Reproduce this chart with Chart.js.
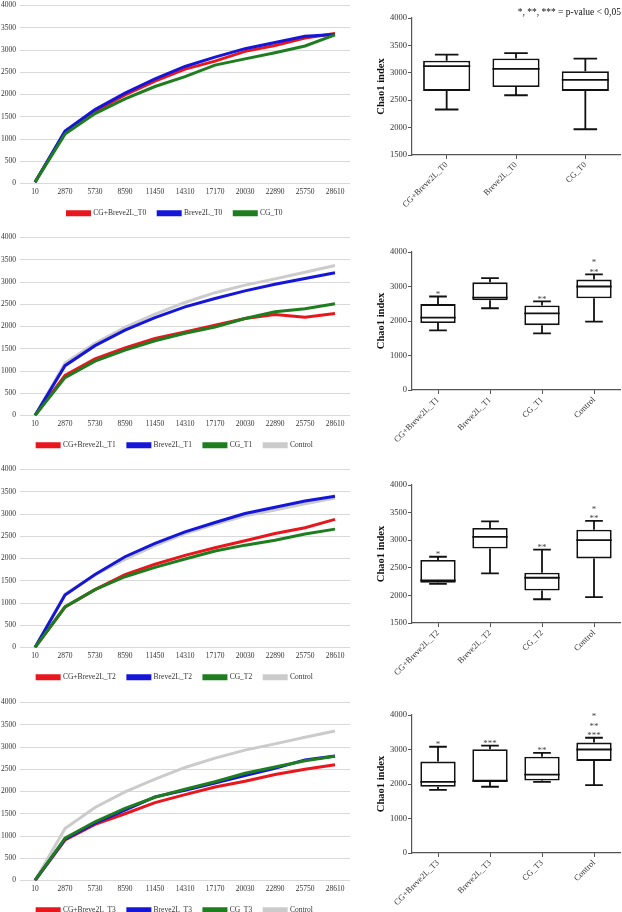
<!DOCTYPE html>
<html lang="en">
<head>
<meta charset="UTF-8">
<title>Chao1 rarefaction and index</title>
<script src="https://cdn.jsdelivr.net/npm/chart.js"></script>
<style>
  body { margin: 0; background: #fff; }
  #page { position: relative; width: 622px; height: 912px; overflow: hidden; font-family: 'Liberation Serif', serif; }
  canvas { position: absolute; }
  #note { position: absolute; right: 1px; top: 7px; font-size: 9.5px; line-height: 11px; color: #111; }
</style>
</head>
<body>
<div id="page">
  <canvas id="line0" width="352" height="230" style="left:0;top:-3px"></canvas>
  <canvas id="line1" width="352" height="230" style="left:0;top:229px"></canvas>
  <canvas id="line2" width="352" height="230" style="left:0;top:461px"></canvas>
  <canvas id="line3" width="352" height="230" style="left:0;top:694px"></canvas>
  <canvas id="box0" width="287" height="209" style="left:335px;top:8px"></canvas>
  <canvas id="box1" width="287" height="210" style="left:335px;top:242px"></canvas>
  <canvas id="box2" width="287" height="210" style="left:335px;top:475px"></canvas>
  <canvas id="box3" width="287" height="210" style="left:335px;top:705px"></canvas>
  <div id="note">*, **, *** = p-value &lt; 0,05</div>
</div>

<script>
// rarefaction depths
const depths = ['10', '2870', '5730', '8590', '11450', '14310', '17170', '20030', '22890', '25750', '28610'];

// T0 curves
const cgBreveT0 = [30, 1150, 1620, 1990, 2300, 2570, 2750, 2970, 3100, 3270, 3370];
const breveT0   = [30, 1180, 1660, 2030, 2350, 2630, 2840, 3030, 3170, 3310, 3350];
const cgT0      = [30, 1110, 1570, 1900, 2180, 2400, 2660, 2800, 2940, 3090, 3340];

// T1 curves
const cgBreveT1 = [0, 900, 1270, 1520, 1730, 1880, 2030, 2180, 2270, 2210, 2290];
const breveT1   = [0, 1120, 1570, 1920, 2200, 2440, 2630, 2800, 2950, 3080, 3210];
const cgT1      = [0, 850, 1220, 1470, 1680, 1850, 1990, 2180, 2330, 2400, 2510];
const controlT1 = [0, 1180, 1620, 1980, 2280, 2540, 2760, 2930, 3070, 3220, 3370];

// T2 curves
const cgBreveT2 = [0, 910, 1300, 1640, 1870, 2070, 2240, 2400, 2560, 2690, 2880];
const breveT2   = [0, 1180, 1640, 2040, 2340, 2600, 2810, 3010, 3150, 3290, 3400];
const cgT2      = [0, 910, 1300, 1590, 1800, 1990, 2170, 2300, 2410, 2550, 2660];
const controlT2 = [0, 1200, 1630, 1980, 2290, 2560, 2770, 2960, 3090, 3230, 3360];

// T3 curves
const cgBreveT3 = [0, 910, 1260, 1500, 1750, 1930, 2100, 2230, 2380, 2500, 2600];
const breveT3   = [0, 930, 1290, 1580, 1880, 2030, 2190, 2360, 2520, 2710, 2800];
const cgT3      = [0, 950, 1320, 1620, 1870, 2050, 2220, 2410, 2550, 2690, 2790];
const controlT3 = [0, 1170, 1640, 1990, 2280, 2540, 2750, 2930, 3070, 3220, 3360];

// box plots: min, q1, median, q3, max
const groupsT0 = ['CG+Breve2L_T0', 'Breve2L_T0', 'CG_T0'];
const minT0 = [2330, 2590, 1970];
const q1T0  = [2670, 2740, 2670];
const medT0 = [3120, 3070, 2870];
const q3T0  = [3220, 3260, 3030];
const maxT0 = [3330, 3360, 3260];
const starsT0 = [[], [], []];

const groupsT1 = ['CG+Breve2L_T1', 'Breve2L_T1', 'CG_T1', 'Control'];
const minT1 = [1730, 2370, 1640, 1980];
const q1T1  = [1940, 2600, 1880, 2660];
const medT1 = [2100, 2680, 2220, 3000];
const q3T1  = [2490, 3120, 2450, 3200];
const maxT1 = [2710, 3240, 2570, 3350];
const starsT1 = [['*'], [], ['**'], ['**', '*']];

const groupsT2 = ['CG+Breve2L_T2', 'Breve2L_T2', 'CG_T2', 'Control'];
const minT2 = [2210, 2400, 1930, 1970];
const q1T2  = [2230, 2850, 2090, 2670];
const medT2 = [2270, 3060, 2320, 3000];
const q3T2  = [2640, 3220, 2410, 3190];
const maxT2 = [2700, 3340, 2830, 3350];
const starsT2 = [['*'], [], ['**'], ['**', '*']];

const groupsT3 = ['CG+Breve2L_T3', 'Breve2L_T3', 'CG_T3', 'Control'];
const minT3 = [1830, 1920, 2060, 1970];
const q1T3  = [1920, 2060, 2100, 2670];
const medT3 = [2060, 2100, 2270, 3000];
const q3T3  = [2650, 3010, 2790, 3200];
const maxT3 = [3080, 3110, 2900, 3340];
const starsT3 = [['*'], ['***'], ['**'], ['***', '**', '*']];

const RED = '#e8161d', BLUE = '#1616d8', GREEN = '#1e7d1e', GREY = '#cbcbcb';
const serif = "'Liberation Serif', 'Times New Roman', serif";
const plain = v => String(v); // no thousands separator

function lineChart(id, suffix, series) {
  const names = ['CG+Breve2L_' + suffix, 'Breve2L_' + suffix, 'CG_' + suffix, 'Control'];
  const colors = [RED, BLUE, GREEN, GREY];
  const drawOrder = [3, 2, 1, 4]; // control underneath, green on top
  const datasets = series.map((data, i) => ({
    label: names[i],
    data: data,
    borderColor: colors[i],
    backgroundColor: colors[i],
    borderWidth: 3,
    pointRadius: 0,
    tension: 0,
    order: drawOrder[i]
  }));

  new Chart(document.getElementById(id), {
    type: 'line',
    data: { labels: depths, datasets: datasets },
    options: {
      responsive: false,
      animation: false,
      layout: { padding: { top: 6, right: 2, left: 0, bottom: 0 } },
      plugins: {
        tooltip: { enabled: false },
        legend: {
          position: 'bottom',
          labels: {
            boxWidth: 22, boxHeight: 3, padding: 12,
            color: '#333', font: { family: serif, size: 7.5 },
            sort: (a, b) => a.datasetIndex - b.datasetIndex
          }
        }
      },
      scales: {
        x: {
          offset: true,
          grid: { display: false, drawTicks: false },
          border: { display: false },
          ticks: { color: '#333', font: { family: serif, size: 7.5 }, padding: 4, maxRotation: 0, autoSkip: false },
          afterFit: s => { s.height = 14; }
        },
        y: {
          min: 0, max: 4000,
          ticks: { stepSize: 500, color: '#333', font: { family: serif, size: 7.5 }, padding: 4, callback: plain },
          grid: { color: '#d9d9d9', drawTicks: false },
          border: { display: false },
          afterFit: s => { s.width = 20; }
        }
      }
    }
  });
}

function boxChart(id, groups, mins, q1s, meds, q3s, maxs, stars, yMin, yStep) {
  const whiskers = {
    id: 'whiskers',
    afterDatasetsDraw(chart) {
      const ctx = chart.ctx, x = chart.scales.x, y = chart.scales.y;
      const bars = chart.getDatasetMeta(0).data;
      ctx.save();
      ctx.strokeStyle = '#111';
      ctx.lineWidth = 1.8;
      bars.forEach((bar, i) => {
        const cx = x.getPixelForValue(i);
        const half = bar.width / 2;
        const cap = bar.width / 4;
        ctx.beginPath();
        // median
        ctx.moveTo(cx - half, y.getPixelForValue(meds[i]));
        ctx.lineTo(cx + half, y.getPixelForValue(meds[i]));
        // upper whisker
        ctx.moveTo(cx, y.getPixelForValue(q3s[i]));
        ctx.lineTo(cx, y.getPixelForValue(maxs[i]));
        ctx.moveTo(cx - cap, y.getPixelForValue(maxs[i]));
        ctx.lineTo(cx + cap, y.getPixelForValue(maxs[i]));
        // lower whisker
        ctx.moveTo(cx, y.getPixelForValue(q1s[i]));
        ctx.lineTo(cx, y.getPixelForValue(mins[i]));
        ctx.moveTo(cx - cap, y.getPixelForValue(mins[i]));
        ctx.lineTo(cx + cap, y.getPixelForValue(mins[i]));
        ctx.stroke();
        // significance marks stacked above the top whisker
        ctx.fillStyle = '#444';
        ctx.font = '9px ' + serif;
        ctx.textAlign = 'center';
        ctx.textBaseline = 'alphabetic';
        stars[i].forEach((s, k) => {
          ctx.fillText(s, cx, y.getPixelForValue(maxs[i]) + 0.5 - k * 9.5);
        });
      });
      ctx.restore();
    }
  };

  new Chart(document.getElementById(id), {
    type: 'bar',
    data: {
      labels: groups,
      datasets: [{
        data: q1s.map((v, i) => [v, q3s[i]]),
        backgroundColor: '#fff',
        borderColor: '#111',
        borderWidth: 1.8,
        borderSkipped: false,
        barPercentage: 0.68,
        categoryPercentage: 1
      }]
    },
    options: {
      responsive: false,
      animation: false,
      layout: { padding: { top: 10, left: 38, right: 2, bottom: 0 } },
      plugins: { legend: { display: false }, tooltip: { enabled: false } },
      scales: {
        x: {
          offset: true,
          grid: { offset: false, drawOnChartArea: false, drawTicks: true, tickLength: 4, color: '#555', lineWidth: 1 },
          border: { color: '#555', width: 1.2 },
          ticks: { color: '#333', font: { family: serif, size: 8.5 }, minRotation: 45, maxRotation: 45, padding: 1, autoSkip: false },
          afterFit: s => { s.height = 62; }
        },
        y: {
          min: yMin, max: 4000,
          ticks: { stepSize: yStep, color: '#333', font: { family: serif, size: 8.5 }, padding: 1, callback: plain },
          grid: { drawOnChartArea: false, drawTicks: true, tickLength: 4, color: '#555', lineWidth: 1 },
          border: { color: '#555', width: 1.2 },
          title: { display: true, text: 'Chao1 index', color: '#111', font: { family: serif, size: 10.5, weight: 'bold' }, padding: { top: 2, bottom: 0 } },
          afterFit: s => { s.width = 39; }
        }
      }
    },
    plugins: [whiskers]
  });
}

lineChart('line0', 'T0', [cgBreveT0, breveT0, cgT0]);
lineChart('line1', 'T1', [cgBreveT1, breveT1, cgT1, controlT1]);
lineChart('line2', 'T2', [cgBreveT2, breveT2, cgT2, controlT2]);
lineChart('line3', 'T3', [cgBreveT3, breveT3, cgT3, controlT3]);

boxChart('box0', groupsT0, minT0, q1T0, medT0, q3T0, maxT0, starsT0, 1500, 500);
boxChart('box1', groupsT1, minT1, q1T1, medT1, q3T1, maxT1, starsT1, 0, 1000);
boxChart('box2', groupsT2, minT2, q1T2, medT2, q3T2, maxT2, starsT2, 1500, 500);
boxChart('box3', groupsT3, minT3, q1T3, medT3, q3T3, maxT3, starsT3, 0, 1000);
</script>
</body>
</html>
